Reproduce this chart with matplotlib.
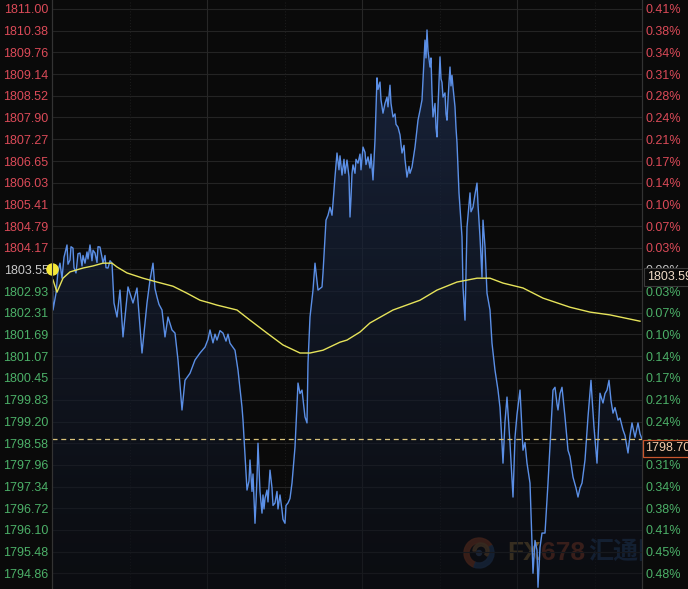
import numpy as np
import matplotlib
matplotlib.use("Agg")
import matplotlib.pyplot as plt
from matplotlib.patches import Wedge, Circle, Rectangle

plt.rcParams['font.family'] = ['Liberation Sans', 'DejaVu Sans']

# price ticks (left) and reference price
tick_prices = [1811.00, 1810.38, 1809.76, 1809.14, 1808.52, 1807.90, 1807.27,
               1806.65, 1806.03, 1805.41, 1804.79, 1804.17, 1803.55, 1802.93,
               1802.31, 1801.69, 1801.07, 1800.45, 1799.83, 1799.20, 1798.58,
               1797.96, 1797.34, 1796.72, 1796.10, 1795.48, 1794.86]
ref_price = 1803.55
last_price = 1798.70
box_price = 1803.59

# gold price (minute index, price)
t = [0, 1, 4, 6, 8, 10, 12, 15, 16, 18,
     19, 21, 22, 24, 26, 28, 30, 31, 33, 35,
     36, 38, 40, 41, 43, 45, 46, 48, 50, 51,
     53, 54, 56, 58, 60, 62, 65, 68, 71, 76,
     81, 85, 90, 95, 98, 101, 103, 105, 107, 110,
     113, 116, 120, 123, 126, 130, 133, 138, 143, 148,
     153, 156, 158, 161, 163, 165, 168, 171, 174, 176,
     178, 183, 186, 190, 191, 195, 197, 198, 200, 201,
     203, 204, 205, 206, 208, 210, 211, 212, 213, 215,
     216, 218, 220, 221, 223, 225, 226, 228, 230, 231,
     233, 234, 236, 238, 240, 243, 246, 248, 250, 253,
     255, 256, 258, 261, 263, 266, 270, 271, 274, 276,
     278, 280, 281, 283, 285, 287, 288, 290, 292, 293,
     295, 297, 298, 299, 300, 301, 303, 304, 306, 308,
     309, 311, 313, 314, 316, 318, 319, 321, 323, 325,
     326, 328, 329, 331, 333, 335, 336, 338, 339, 341,
     343, 344, 346, 348, 350, 352, 353, 355, 357, 358,
     360, 363, 366, 368, 370, 373, 374, 375, 376, 378,
     379, 380, 381, 383, 384, 385, 386, 387, 388, 389,
     390, 391, 393, 394, 395, 396, 397, 398, 399, 400,
     401, 403, 404, 405, 407, 410, 411, 413, 415, 418,
     419, 421, 423, 425, 426, 428, 430, 431, 433, 435,
     438, 440, 443, 446, 448, 450, 451, 453, 455, 458,
     461, 463, 465, 468, 471, 473, 475, 478, 481, 483,
     485, 486, 488, 490, 493, 496, 500, 501, 503, 505,
     506, 508, 510, 513, 516, 518, 521, 524, 526, 528,
     530, 533, 536, 539, 540, 542, 545, 548, 551, 553,
     555, 557, 559, 561, 563, 566, 568, 571, 573, 576,
     578, 580, 583, 586, 588, 590]
price = [1803.53, 1802.39, 1802.87, 1803.50, 1803.73, 1803.30, 1803.90, 1804.25, 1803.70, 1803.82,
         1804.20, 1804.16, 1803.60, 1803.45, 1804.00, 1804.02, 1803.65, 1803.95, 1803.73, 1804.05,
         1803.85, 1804.25, 1803.80, 1804.10, 1804.02, 1803.75, 1804.20, 1804.19, 1803.90, 1803.73,
         1803.95, 1803.60, 1803.59, 1803.80, 1803.73, 1802.59, 1802.19, 1802.96, 1801.62, 1803.05,
         1802.59, 1803.02, 1801.16, 1802.59, 1803.25, 1803.73, 1803.00, 1802.76, 1802.55, 1802.39,
         1801.62, 1802.19, 1801.82, 1801.73, 1800.96, 1799.53, 1800.38, 1800.58, 1800.96, 1801.16,
         1801.33, 1801.55, 1801.82, 1801.45, 1801.70, 1801.53, 1801.80, 1801.73, 1801.50, 1801.70,
         1801.44, 1801.24, 1800.67, 1799.61, 1799.24, 1797.24, 1797.50, 1798.10, 1797.20, 1797.70,
         1796.29, 1796.90, 1797.60, 1798.58, 1797.20, 1796.58, 1797.10, 1796.70, 1797.00, 1797.24,
         1796.90, 1797.81, 1797.30, 1796.80, 1796.87, 1797.20, 1796.70, 1797.10, 1796.67, 1796.40,
         1796.29, 1796.80, 1796.87, 1797.00, 1797.44, 1798.47, 1800.30, 1800.00, 1800.10, 1799.33,
         1799.16, 1800.87, 1802.19, 1802.96, 1803.73, 1802.96, 1803.05, 1803.45, 1804.96, 1805.10,
         1805.33, 1805.10, 1805.45, 1806.20, 1806.88, 1806.40, 1806.80, 1806.25, 1806.70, 1806.30,
         1806.68, 1806.20, 1805.05, 1805.60, 1806.30, 1806.54, 1806.30, 1806.70, 1806.59, 1806.85,
         1806.40, 1807.05, 1806.90, 1806.55, 1806.77, 1806.45, 1806.85, 1806.11, 1807.25, 1809.03,
         1808.70, 1808.91, 1808.40, 1808.02, 1808.30, 1808.48, 1808.20, 1808.82, 1808.30, 1807.91,
         1808.00, 1807.70, 1807.62, 1807.40, 1806.88, 1807.10, 1806.70, 1806.19, 1806.50, 1806.30,
         1806.48, 1807.05, 1807.82, 1808.10, 1808.40, 1810.11, 1809.60, 1810.40, 1809.80, 1809.34,
         1809.60, 1808.60, 1807.91, 1808.30, 1807.60, 1807.34, 1808.20, 1808.90, 1809.63, 1809.00,
         1808.90, 1808.48, 1808.60, 1808.00, 1807.82, 1808.40, 1808.90, 1809.34, 1808.80, 1809.10,
         1808.77, 1808.20, 1807.60, 1807.17, 1805.74, 1804.48, 1803.05, 1802.10, 1804.76, 1805.74,
         1805.20, 1805.33, 1805.70, 1806.02, 1805.40, 1804.48, 1803.33, 1804.96, 1804.20, 1802.87,
         1802.39, 1801.44, 1800.67, 1800.10, 1799.60, 1798.58, 1798.01, 1799.20, 1799.90, 1798.58,
         1797.04, 1798.75, 1799.40, 1800.10, 1798.38, 1798.60, 1798.01, 1797.44, 1794.86, 1795.80,
         1795.52, 1794.46, 1795.60, 1796.01, 1796.01, 1797.44, 1799.53, 1800.10, 1800.18, 1799.70,
         1799.53, 1800.00, 1800.18, 1799.33, 1798.38, 1798.20, 1797.61, 1797.30, 1797.04, 1797.30,
         1797.44, 1798.10, 1799.33, 1800.38, 1799.90, 1799.04, 1798.01, 1800.01, 1799.73, 1800.00,
         1800.10, 1800.38, 1799.80, 1799.44, 1799.60, 1799.24, 1799.30, 1798.96, 1798.80, 1798.30,
         1798.80, 1799.16, 1798.75, 1799.16, 1798.85, 1798.70]

# moving average line
ma_t = [1, 5, 11, 18, 31, 41, 51, 60, 65, 75, 91, 105, 121, 135, 148, 158, 165, 185,
        198, 215, 231, 248, 258, 271, 288, 295, 308, 318, 341, 368, 385, 405, 425,
        438, 451, 471, 491, 518, 538, 558, 588]
ma = [1803.25, 1802.90, 1803.30, 1803.48, 1803.59, 1803.65, 1803.73, 1803.73, 1803.62,
      1803.45, 1803.30, 1803.19, 1803.07, 1802.87, 1802.67, 1802.59, 1802.53, 1802.39,
      1802.10, 1801.73, 1801.39, 1801.16, 1801.16, 1801.24, 1801.47, 1801.53, 1801.76,
      1802.02, 1802.39, 1802.67, 1802.96, 1803.19, 1803.30, 1803.30, 1803.16, 1803.02,
      1802.73, 1802.47, 1802.33, 1802.25, 1802.07]

bg = '#0a0a0a'
red = '#db4a58'
green = '#4cb068'
gray = '#c8c8c8'

fig = plt.figure(figsize=(6.88, 5.89), dpi=100, facecolor=bg)

# watermark behind the chart
wax = fig.add_axes([0, 0, 1, 1], zorder=0)
wax.set_xlim(0, 688)
wax.set_ylim(589, 0)
wax.axis('off')
wax.set_facecolor(bg)
wax.add_patch(Wedge((479, 553), 15, 110, 330, width=5, color='#7a3519', alpha=0.9))
wax.add_patch(Wedge((479, 553), 15, -30, 110, width=5, color='#1f3858', alpha=0.9))
wax.add_patch(Wedge((481, 551), 8, 180, 40, width=3, color='#6a4a28', alpha=0.9))
wax.add_patch(Circle((479, 553), 2.5, color='#2a3a55'))
wax.text(507, 553, 'FX', color='#6b5328', fontsize=19, fontweight='bold',
         va='center', ha='left')
wax.text(541, 553, '678', color='#70301c', fontsize=19, fontweight='bold',
         va='center', ha='left')
wax.text(588, 552, '汇通网', color='#1c3452', fontsize=18, fontweight='bold',
         va='center', ha='left', family=['Noto Sans CJK SC', 'DejaVu Sans'])
wax.add_patch(Rectangle((643, 0), 45, 589, color=bg, zorder=5))

ax = fig.add_axes([52 / 688, 0, 590 / 688, 1], zorder=1)
ax.set_facecolor('none')
ymin, ymax = 1794.41, 1811.257
ax.set_xlim(0, 590)
ax.set_ylim(ymin, ymax)

for p in tick_prices:
    ax.axhline(p, color='#242424', lw=0.8, zorder=0)
for v in [155, 310, 465]:
    ax.axvline(v, color='#272727', lw=0.8, zorder=0)
for v in [77.5, 232.5, 387.5, 542.5]:
    ax.axvline(v, color='#1b1b1b', lw=0.8, ls=':', zorder=0)

# gradient fill under the price
poly = ax.fill_between(t, price, ymin, color='none', lw=0)
n = 256
c1 = np.array([0.11, 0.17, 0.29, 0.78])
c2 = np.array([0.05, 0.06, 0.09, 0.55])
grad = np.linspace(0, 1, n)[:, None, None]
img = c1 + (c2 - c1) * grad
im = ax.imshow(img, extent=[0, 590, ymin, max(price)], aspect='auto',
               origin='upper', zorder=1)
im.set_clip_path(poly.get_paths()[0], transform=ax.transData)

ax.plot(t, price, color='#5b8fe6', lw=1.0, zorder=3)
ax.plot(ma_t, ma, color='#e6e35a', lw=1.0, zorder=4)
ax.axhline(last_price, color='#d9c27a', lw=0.9, dashes=(4, 3), zorder=4)
ax.plot([0], [ref_price], 'o', color='#f5e83a', ms=8, zorder=6, clip_on=False)

ax.set_yticks(tick_prices)
ax.set_yticklabels(['%.2f' % p for p in tick_prices])
ax.set_xticks([])
ax.tick_params(axis='y', length=0, pad=2.5, labelsize=9)
for lab, p in zip(ax.get_yticklabels(), tick_prices):
    lab.set_color(red if p > ref_price else (gray if p == ref_price else green))

ax2 = ax.twinx()
ax2.set_ylim(ymin, ymax)
ax2.set_yticks(tick_prices)
ax2.set_yticklabels(['%.2f%%' % abs((p / ref_price - 1) * 100) for p in tick_prices])
ax2.tick_params(axis='y', length=0, pad=2.5, labelsize=9)
for lab, p in zip(ax2.get_yticklabels(), tick_prices):
    lab.set_color(red if p > ref_price else (gray if p == ref_price else green))

for a in (ax, ax2):
    for s in ['top', 'bottom']:
        a.spines[s].set_visible(False)
    a.spines['left'].set_color('#333333')
    a.spines['right'].set_color('#333333')

ax2.annotate('%.2f' % box_price, xy=(1, box_price), xycoords=('axes fraction', 'data'),
             xytext=(4, -2), textcoords='offset points', ha='left', va='top',
             fontsize=9, color='#f0dcc8', zorder=10, annotation_clip=False,
             bbox=dict(boxstyle='square,pad=0.25', fc=bg, ec='#3a3a3a', lw=0.8))
ax2.annotate('%.2f' % last_price, xy=(1, last_price), xycoords=('axes fraction', 'data'),
             xytext=(2.5, -2.5), textcoords='offset points', ha='left', va='top',
             fontsize=9, color='#f2c8a8', zorder=10, annotation_clip=False,
             bbox=dict(boxstyle='square,pad=0.2', fc=bg, ec='#c8552e', lw=0.9))

fig.savefig('out.png', dpi=100, facecolor=bg)
